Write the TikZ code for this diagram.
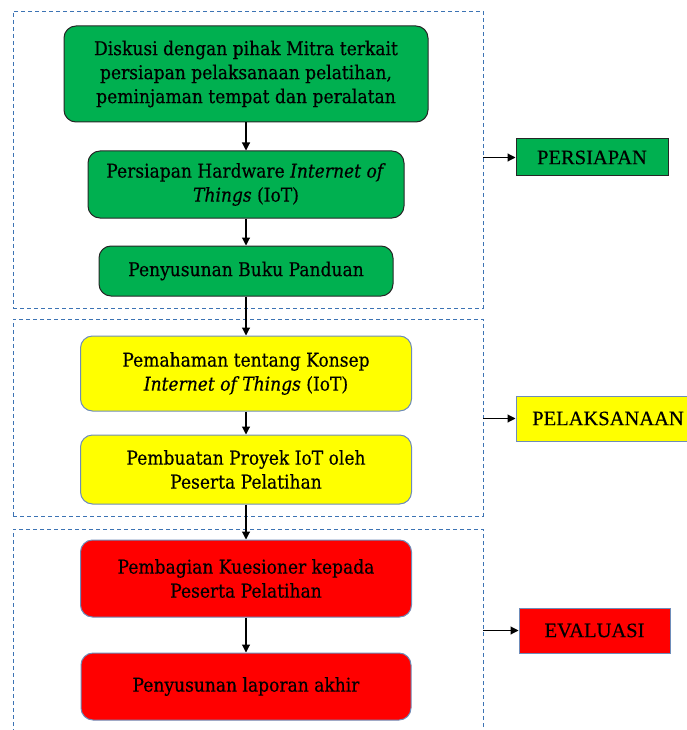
\documentclass[tikz,border=0pt]{standalone}
\usepackage{fontspec}
\setmainfont{DejaVu Serif}[FakeStretch=0.9, FakeBold=0.4]
\newfontfamily\tagfont{Liberation Serif}[FakeBold=0.4]
\usetikzlibrary{arrows.meta}
\definecolor{colgreen}{RGB}{0,176,80}
\definecolor{colyellow}{RGB}{255,255,0}
\definecolor{colred}{RGB}{255,0,0}
\definecolor{colframe}{RGB}{60,115,180}
\definecolor{coledge}{RGB}{110,140,185}
\tikzset{
  stepbox/.style={
    rectangle,
    rounded corners=12pt,
    align=center,
    inner sep=0pt,
    line width=1pt,
    font=\fontsize{19}{24}\selectfont
  },
  greenbox/.style={stepbox, fill=colgreen, draw=black!85},
  yellowbox/.style={stepbox, fill=colyellow, draw=coledge},
  redbox/.style={stepbox, fill=colred, draw=coledge},
  phase/.style={rectangle, draw=colframe, line width=0.9pt, dash pattern=on 4pt off 3pt},
  tagbox/.style={rectangle, inner sep=0pt, line width=1pt, font=\tagfont\fontsize{20.5}{22}\selectfont},
  flow/.style={-{Triangle[length=8pt,width=8pt]}, line width=1.1pt}
}

\begin{document}
\begin{tikzpicture}[x=1pt, y=-1pt]
  \useasboundingbox (0,0) rectangle (686,730);

  % dashed phase frames
  \node[phase, minimum width=470, minimum height=297] (prep) at (248,159.5) {};
  \node[phase, minimum width=470, minimum height=197] (exec) at (248,417.5) {};
  \node[phase, minimum width=470, minimum height=211] (eval) at (248,634.5) {};

  % the steps
  \node[greenbox, minimum width=364, minimum height=96] (diskusi) at (246,74)
    {Diskusi dengan pihak Mitra terkait\\ persiapan pelaksanaan pelatihan,\\ peminjaman tempat dan peralatan};
  \node[greenbox, minimum width=316, minimum height=67] (hardware) at (246,184.5)
    {Persiapan Hardware \textit{Internet of}\\ \textit{Things} (IoT)};
  \node[greenbox, minimum width=294, minimum height=50] (buku) at (246,271)
    {Penyusunan Buku Panduan};
  \node[yellowbox, minimum width=331, minimum height=75] (konsep) at (246,373.5)
    {Pemahaman tentang Konsep\\ \textit{Internet of Things} (IoT)};
  \node[yellowbox, minimum width=331, minimum height=69] (proyek) at (246,469.5)
    {Pembuatan Proyek IoT oleh\\ Peserta Pelatihan};
  \node[redbox, minimum width=331, minimum height=77] (kuesioner) at (246,578.5)
    {Pembagian Kuesioner kepada\\ Peserta Pelatihan};
  \node[redbox, minimum width=330, minimum height=67] (laporan) at (246,686.5)
    {Penyusunan laporan akhir};

  % phase labels
  \node[tagbox, draw=black!85, fill=colgreen, minimum width=152, minimum height=37] (persiapan) at (592,157.5) {PERSIAPAN};
  \node[tagbox, draw=coledge, fill=colyellow, minimum width=184, minimum height=45] (pelaksanaan) at (608,418.5) {PELAKSANAAN};
  \node[tagbox, draw=coledge, fill=colred, minimum width=151, minimum height=45] (evaluasi) at (594.5,630.5) {EVALUASI};

  % the flow
  \foreach \a/\b in {diskusi/hardware, hardware/buku, buku/konsep, konsep/proyek, proyek/kuesioner, kuesioner/laporan}
    \draw[flow] (\a) -- (\b);

  % frames to labels
  \draw[flow] (prep.east |- persiapan.west) -- (persiapan.west);
  \draw[flow] (exec.east |- pelaksanaan.west) -- (pelaksanaan.west);
  \draw[flow] (eval.east |- evaluasi.west) -- (evaluasi.west);
\end{tikzpicture}
\end{document}
